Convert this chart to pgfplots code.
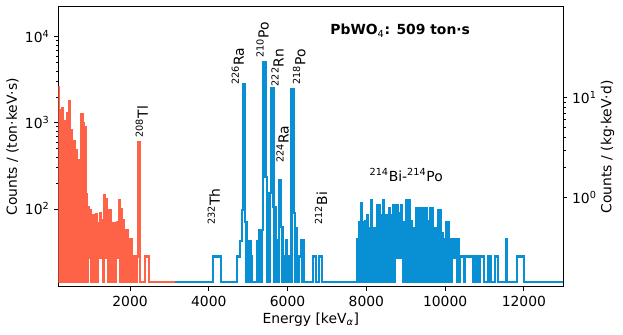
\documentclass[border=0pt]{standalone}
\usepackage{fontspec}
\setmainfont{DejaVu Sans}
\usepackage{pgfplots}
\pgfplotsset{compat=1.18}
\definecolor{alphaorange}{RGB}{255,99,71}
\definecolor{alphablue}{RGB}{8,143,212}

\begin{document}
\begin{tikzpicture}
\path[use as bounding box] (-42pt,-34.56pt) rectangle (406.6pt,206.6pt);
\begin{axis}[
  name=main,
  at={(0,0)}, anchor=south west,
  scale only axis, width=363.6pt, height=201.6pt,
  xmin=180, xmax=13000,
  ymode=log, ymin=12.4, ymax=22300,
  scaled x ticks=false,
  xtick={2000,4000,6000,8000,10000,12000},
  xticklabels={2000,4000,6000,8000,10000,12000},
  ytick={100,1000,10000},
  yticklabels={10\textsuperscript{2},10\textsuperscript{3},10\textsuperscript{4}},
  xtick pos=left, ytick pos=left,
  tick align=outside,
  major tick length=2.8pt, minor tick length=1.8pt,
  every tick/.style={black, line width=0.6pt},
  axis line style={line width=0.8pt},
  xlabel={Energy [keV\textsubscript{\textit{α}}]},
  ylabel={Counts / (ton·keV·s)},
  xlabel style={at={(axis description cs:0.5,-0.118)}, anchor=center},
  ylabel style={at={(axis description cs:-0.0907,0.5)}, anchor=center},
]
% low-energy part (orange)
\addplot[const plot, alphaorange, line width=1.6pt] coordinates {
(180,2640)(205,14)(230,1400)(255,14)(280,1480)(305,14)(330,1040)(355,14)
(380,880)(405,1300)(430,14)(450,1770)(475,14)(495,830)(520,14)(540,555)
(565,14)(585,607)(610,14)(630,485)(655,14)(680,372)(705,14)(730,330)
(755,14)(770,1250)(795,14)(815,1000)(840,14)(850,900)(870,14)(880,150)
(905,14)(930,106)(955,27)(980,97)(1005,14)(1030,85)(1055,14)(1080,85)
(1105,14)(1130,88)(1155,14)(1180,69)(1205,27)(1230,89)(1255,27)(1280,75)
(1305,14)(1330,145)(1355,27)(1380,130)(1405,27)(1430,90)(1455,14)(1480,97)
(1505,14)(1530,36)(1555,14)(1580,69)(1605,14)(1630,69)(1655,27)(1680,70)
(1705,27)(1730,127)(1755,14)(1780,100)(1805,14)(1830,74)(1855,14)(1880,57)
(1905,14)(1930,57)(1955,14)(1980,44)(2005,14)(2030,44)(2055,14)(2080,28)
(2105,14)(2130,28)(2155,14)(2170,28)(2200,605)(2255,14)(2380,28)(2490,14)
(3150,14)
};
% alpha region (blue)
\addplot[const plot, alphablue, line width=1.6pt] coordinates {
(3150,14)(4110,28)(4310,14)(4720,28)(4790,42)(4840,97)(4875,2790)(4925,71)
(4960,14)(4985,42)(5030,14)(5050,42)(5065,28)(5105,14)(5235,42)(5260,14)
(5285,57)(5320,14)(5340,57)(5380,5150)(5440,237)(5470,14)(5490,152)(5530,14)
(5550,152)(5580,2550)(5640,106)(5670,14)(5690,106)(5710,43)(5740,14)(5780,217)
(5840,62)(5870,14)(5890,28)(5920,14)(5945,28)(5970,43)(5995,14)(6020,28)
(6050,14)(6100,2480)(6160,89)(6190,14)(6215,60)(6240,28)(6270,14)(6295,28)
(6340,43)(6370,14)(6390,43)(6420,14)(6650,28)(6720,14)(6790,28)(6870,14)
(7770,44)(7795,14)(7820,71)(7845,14)(7870,116)(7895,14)(7920,71)(7945,14)
(7970,73)(7995,14)(8020,85)(8045,14)(8070,60)(8095,14)(8120,127)(8145,14)
(8170,60)(8195,14)(8220,60)(8245,14)(8270,111)(8295,14)(8320,111)(8345,14)
(8370,85)(8395,14)(8420,127)(8445,14)(8470,85)(8495,14)(8520,85)(8545,14)
(8570,102)(8595,14)(8620,85)(8645,14)(8670,111)(8695,14)(8720,111)(8745,27)
(8770,111)(8795,27)(8820,90)(8845,27)(8870,111)(8895,27)(8920,71)(8945,14)
(8970,71)(8995,14)(9020,127)(9045,14)(9070,127)(9095,14)(9120,73)(9145,14)
(9170,60)(9195,14)(9220,60)(9245,14)(9270,102)(9295,14)(9320,102)(9345,14)
(9370,102)(9395,14)(9420,102)(9445,14)(9470,102)(9495,14)(9520,102)(9545,14)
(9570,73)(9595,14)(9620,102)(9645,14)(9670,102)(9695,14)(9720,60)(9745,14)
(9770,60)(9795,14)(9820,96)(9845,14)(9870,96)(9895,14)(9920,52)(9945,14)
(9970,44)(9995,14)(10020,71)(10045,14)(10070,71)(10095,14)(10120,44)(10145,14)
(10170,44)(10195,27)(10220,44)(10245,27)(10270,44)(10295,14)(10320,44)(10345,14)
(10380,28)(10480,14)(10510,28)(10710,14)(10740,28)(10770,14)(10800,28)(10860,14)
(10890,28)(10980,14)(11100,28)(11170,14)(11270,28)(11340,14)(11545,44)(11565,14)
(11830,28)(12000,14)(13000,14)
};
\node[rotate=90, anchor=west, inner sep=0pt] at (axis cs:2298,670) {\textsuperscript{208}Tl};
\node[rotate=90, anchor=west, inner sep=0pt] at (axis cs:4738,2767) {\textsuperscript{226}Ra};
\node[rotate=90, anchor=west, inner sep=0pt] at (axis cs:5369,5700) {\textsuperscript{210}Po};
\node[rotate=90, anchor=west, inner sep=0pt] at (axis cs:5744,2645) {\textsuperscript{222}Rn};
\node[rotate=90, anchor=west, inner sep=0pt] at (axis cs:6296,2767) {\textsuperscript{218}Po};
\node[rotate=90, anchor=west, inner sep=0pt] at (axis cs:5872,340) {\textsuperscript{224}Ra};
\node[rotate=90, anchor=west, inner sep=0pt] at (axis cs:4126,65) {\textsuperscript{232}Th};
\node[rotate=90, anchor=west, inner sep=0pt] at (axis cs:6850,65) {\textsuperscript{212}Bi};
\node at (axis cs:9012,248) {\textsuperscript{214}Bi-\textsuperscript{214}Po};
\node[font=\bfseries] at (axis cs:8859,11830) {PbWO\textsubscript{\mdseries 4}: 509 ton·s};
\end{axis}
\begin{axis}[
  at={(0,0)}, anchor=south west,
  scale only axis, width=363.6pt, height=201.6pt,
  xmin=180, xmax=13000, hide x axis,
  ymode=log, ymin=0.128, ymax=80.7,
  axis y line*=right,
  y axis line style={-, line width=0.8pt},
  ytick={1,10},
  yticklabels={10\textsuperscript{0},10\textsuperscript{1}},
  tick align=outside,
  major tick length=2.8pt, minor tick length=1.8pt,
  every tick/.style={black, line width=0.6pt},
  ylabel={Counts / (kg·keV·d)},
  ylabel style={at={(axis description cs:1.0875,0.5)}, anchor=center},
]
\addplot[draw=none] coordinates {(1000,1)};
\end{axis}
\end{tikzpicture}
\end{document}
